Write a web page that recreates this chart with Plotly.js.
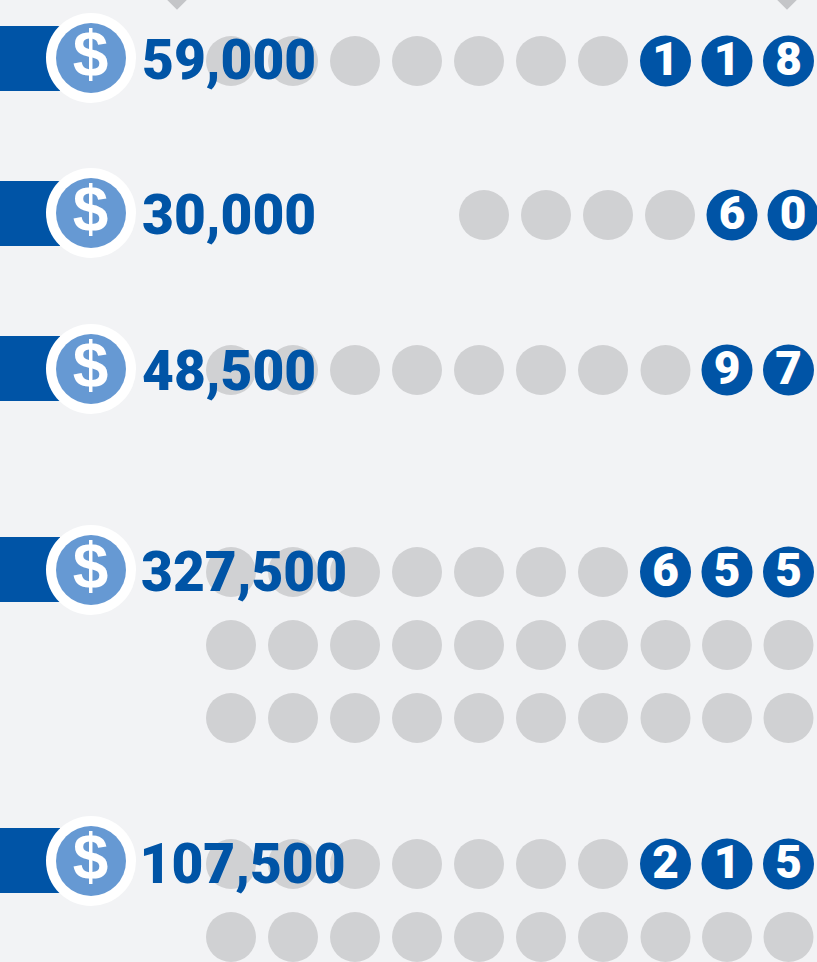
<!DOCTYPE html>
<html>
<head>
<meta charset="utf-8">
<script src="https://cdn.plot.ly/plotly-3.0.1.min.js"></script>
<style>html,body{margin:0;padding:0;background:#f2f3f5;overflow:hidden}#c{width:817px;height:962px}</style>
</head>
<body>
<div id="c"></div>
<script>
const amountLabels = ["59,000","30,000","48,500","327,500","107,500"];
const amountX = [142,142,142,141,139.5];
const amountY = [65.5,220.5,376.5,577.5,869.5];
const badgeY = [58,213,369,570,861];
const barY = [58.5,213.5,368.5,569.5,860.5];
const columnX = [231,293,355,417,479,541,603,665.5,727,788.5];
const shiftedColumnX = [484,546,608,670,732,793];

const greyX = [
  ...columnX.slice(0,7),
  ...shiftedColumnX.slice(0,4),
  ...columnX.slice(0,8),
  ...columnX.slice(0,7), ...columnX, ...columnX,
  ...columnX.slice(0,7), ...columnX
];
const greyY = [
  ...Array(7).fill(61),
  ...Array(4).fill(215),
  ...Array(8).fill(370),
  ...Array(7).fill(572), ...Array(10).fill(645), ...Array(10).fill(718),
  ...Array(7).fill(864), ...Array(10).fill(937)
];
const digitText = ["1","1","8","6","0","9","7","6","5","5","2","1","5"];
const digitX = [665.5,727,788.5,732,793,727,788.5,665.5,727,788.5,665.5,727,788.5];
const digitY = [61,61,61,215,215,370,370,572,572,572,864,864,864];
const pointerX = [177,787];
const pointerY = [0,0];

const blue = "#0054a6";
const traces = [
  {type:"bar",orientation:"h",x:barY.map(()=>60),y:barY,width:65,
   marker:{color:blue,line:{width:0}},hoverinfo:"skip"},
  {type:"scatter",mode:"markers",x:pointerX,y:pointerY,
   marker:{symbol:"diamond",size:15,color:"#c4c5c8"},hoverinfo:"skip"},
  {type:"scatter",mode:"markers",x:greyX,y:greyY,
   marker:{size:50,color:"#d0d1d3",line:{width:0}},hoverinfo:"skip"},
  {type:"scatter",mode:"markers",x:digitX,y:digitY,
   marker:{size:51,color:blue,line:{width:0}},hoverinfo:"skip"},
  {type:"scatter",mode:"text",x:digitX,y:digitY.map(y=>y+2.5),text:digitText,textposition:"middle center",
   textfont:{family:"Roboto",size:46,color:"#ffffff",weight:900},hoverinfo:"skip"},
  {type:"scatter",mode:"markers",x:badgeY.map(()=>91),y:badgeY,
   marker:{size:90,color:"#ffffff",line:{width:0}},hoverinfo:"skip"},
  {type:"scatter",mode:"markers",x:badgeY.map(()=>91),y:badgeY,
   marker:{size:70,color:"#6699d3",line:{width:0}},hoverinfo:"skip"},
  {type:"scatter",mode:"text",x:badgeY.map(()=>90.5),y:badgeY.map(y=>y+2),text:badgeY.map(()=>"$"),
   textposition:"middle center",
   textfont:{family:"Liberation Sans",size:64,color:"#ffffff",weight:700},hoverinfo:"skip"},
  {type:"scatter",mode:"text",x:amountX,y:amountY,text:amountLabels,textposition:"middle right",
   textfont:{family:"Roboto",size:55,color:blue,weight:900},hoverinfo:"skip"}
];
const layout = {
  width:817,height:962,margin:{l:0,r:0,t:0,b:0},
  paper_bgcolor:"#f2f3f5",plot_bgcolor:"#f2f3f5",showlegend:false,
  xaxis:{range:[0,817],visible:false,fixedrange:true},
  yaxis:{range:[962,0],visible:false,fixedrange:true}
};
Plotly.newPlot("c",traces,layout,{displayModeBar:false,staticPlot:true});
</script>
</body>
</html>
